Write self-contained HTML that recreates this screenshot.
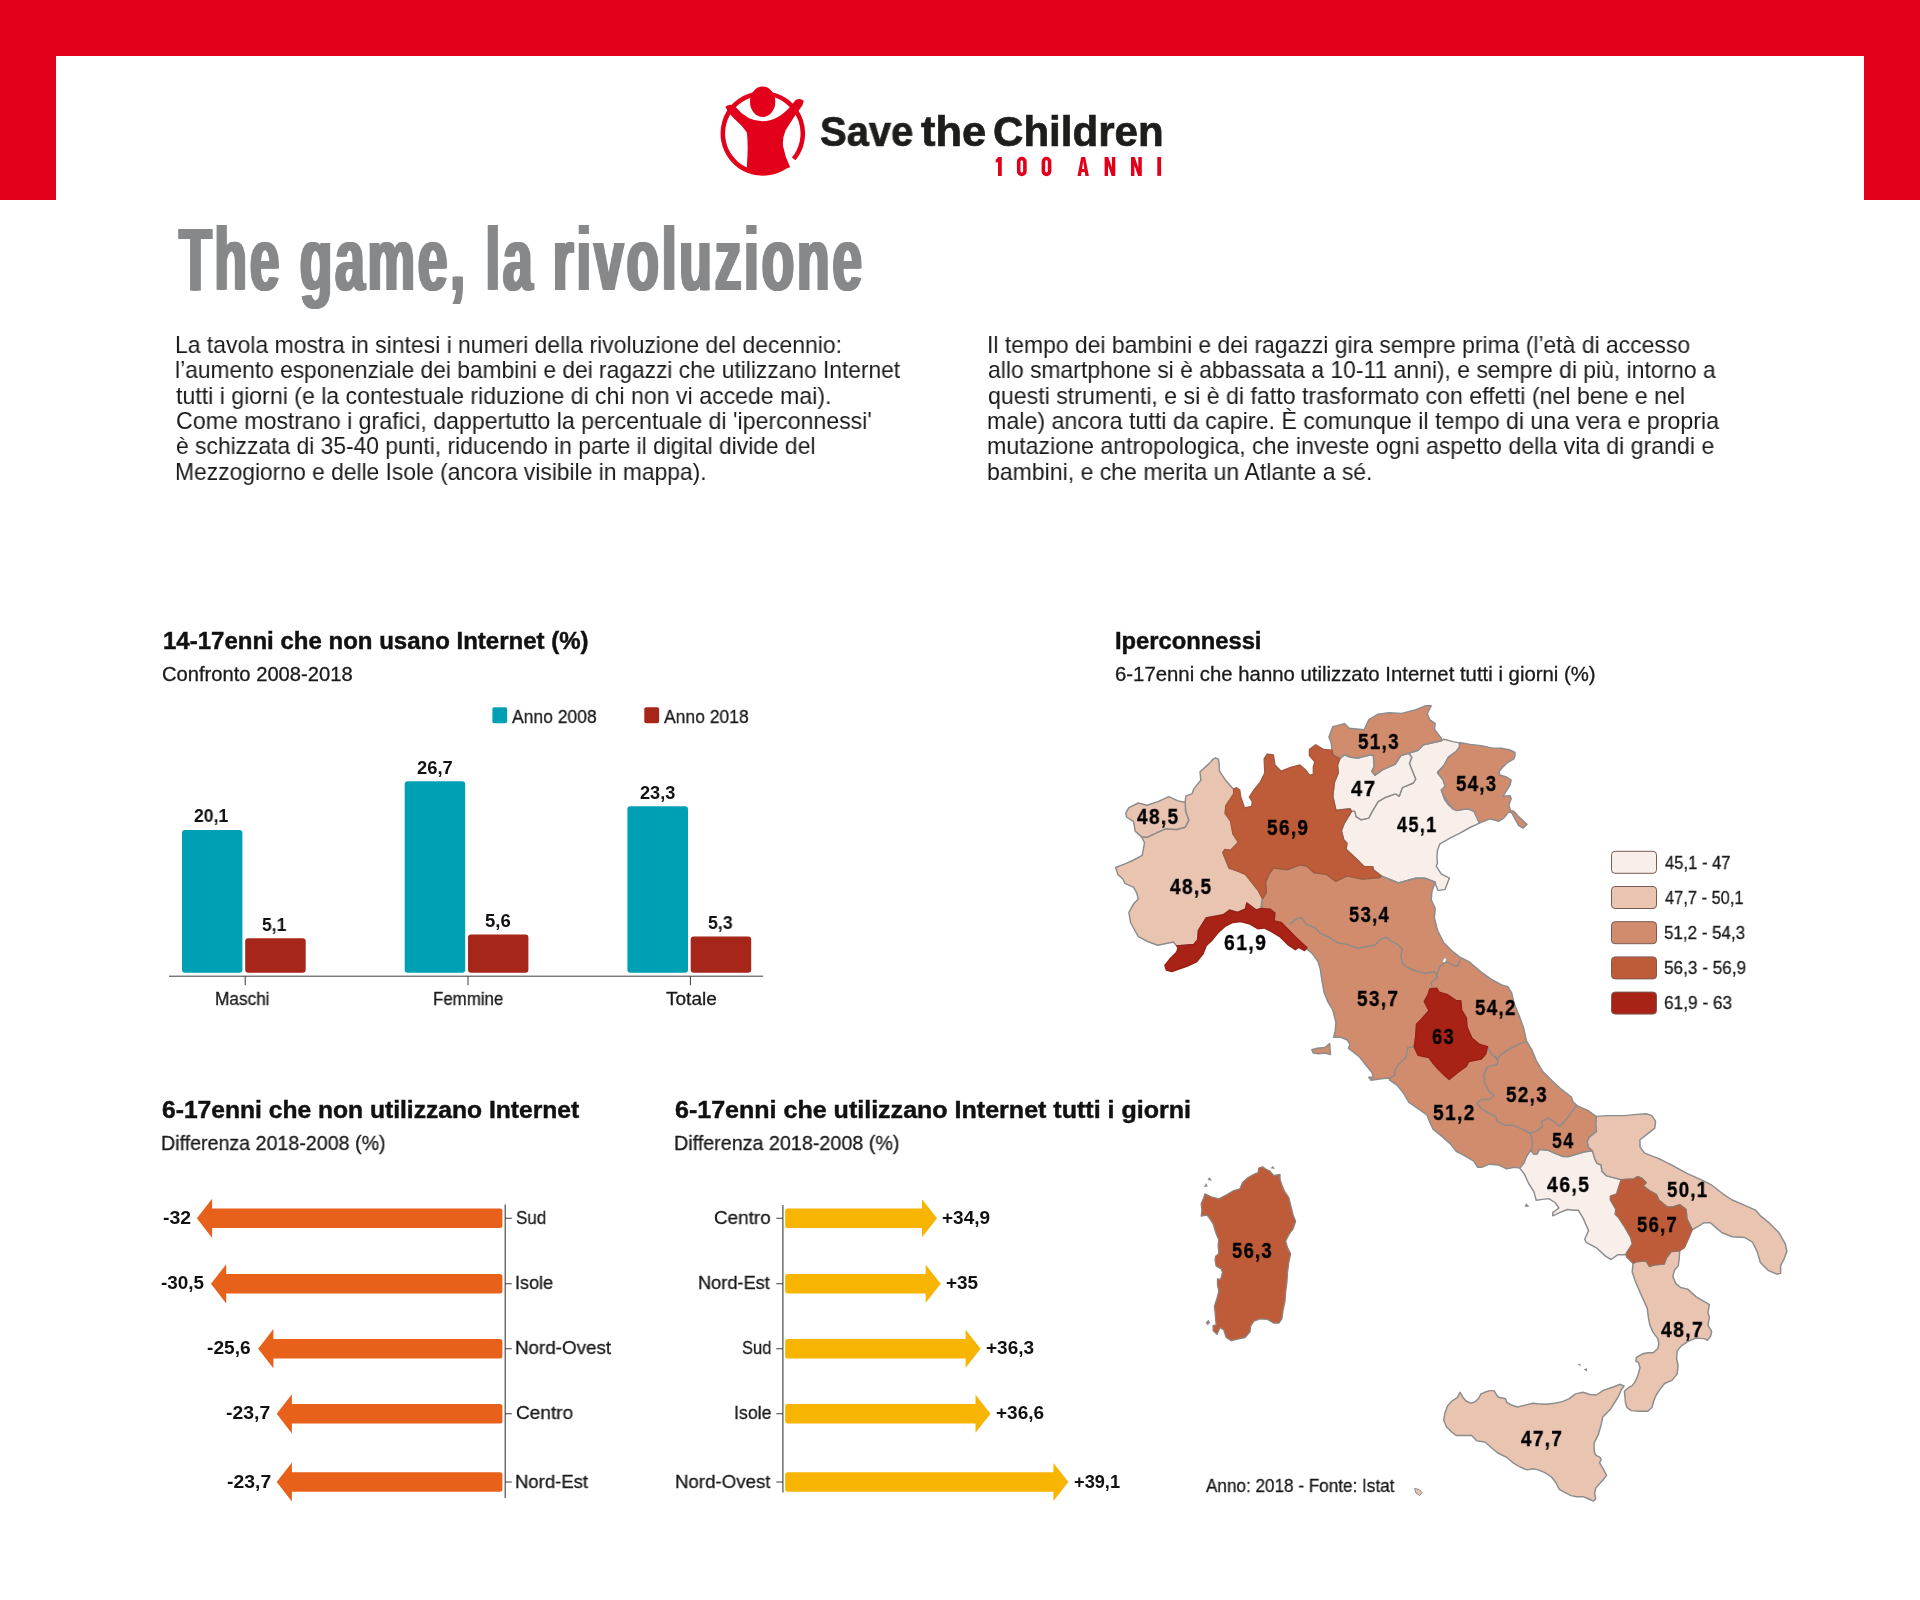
<!DOCTYPE html>
<html lang="it"><head><meta charset="utf-8"><title>The game, la rivoluzione</title>
<style>html,body{margin:0;padding:0;background:#fff}body{width:1920px;height:1600px;position:relative;overflow:hidden;font-family:"Liberation Sans",sans-serif}#g{position:absolute;left:0;top:0}.t{position:absolute;white-space:nowrap;line-height:1;transform-origin:0 0;margin:0;will-change:transform}.b{font-weight:bold}</style></head><body>
<svg id="g" width="1920" height="1600" viewBox="0 0 1920 1600">
<rect x="0" y="0" width="1920" height="56" fill="#E2001A"/>
<rect x="0" y="0" width="56" height="200" fill="#E2001A"/>
<rect x="1864" y="0" width="56" height="200" fill="#E2001A"/>
<rect x="182" y="830" width="60.4" height="142.7" rx="3" ry="3" fill="#00A0B4"/>
<rect x="245.2" y="938.3" width="60.5" height="34.4" rx="3" ry="3" fill="#A6261A"/>
<rect x="404.7" y="781.2" width="60.5" height="191.5" rx="3" ry="3" fill="#00A0B4"/>
<rect x="468" y="934.5" width="60.4" height="38.2" rx="3" ry="3" fill="#A6261A"/>
<rect x="627.4" y="806.3" width="60.6" height="166.4" rx="3" ry="3" fill="#00A0B4"/>
<rect x="690.7" y="936.6" width="60.5" height="36.1" rx="3" ry="3" fill="#A6261A"/>
<path d="M169 976.2 H763.1 M245.2 976.2 V985.2 M468 976.2 V985.2 M690.4 976.2 V985.2" stroke="#3c3c3c" stroke-width="1" fill="none"/>
<rect x="492.4" y="707.3" width="14.8" height="16" rx="2" fill="#00A0B4"/>
<rect x="644.3" y="707.3" width="14.8" height="16" rx="2" fill="#A6261A"/>
<path d="M196.9 1218.3 L212.1 1198.7 L212.1 1208.6 L499.9 1208.6 Q502.4 1208.6 502.4 1211.1 L502.4 1225.5 Q502.4 1228 499.9 1228 L212.1 1228 L212.1 1237.9 Z" fill="#E8611A"/>
<path d="M211 1283.8 L226.2 1264.2 L226.2 1274.1 L499.9 1274.1 Q502.4 1274.1 502.4 1276.6 L502.4 1291 Q502.4 1293.5 499.9 1293.5 L226.2 1293.5 L226.2 1303.4 Z" fill="#E8611A"/>
<path d="M258.2 1348.7 L273.4 1329.1 L273.4 1339 L499.9 1339 Q502.4 1339 502.4 1341.5 L502.4 1355.9 Q502.4 1358.4 499.9 1358.4 L273.4 1358.4 L273.4 1368.3 Z" fill="#E8611A"/>
<path d="M276.7 1413.8 L291.9 1394.2 L291.9 1404.1 L499.9 1404.1 Q502.4 1404.1 502.4 1406.6 L502.4 1421 Q502.4 1423.5 499.9 1423.5 L291.9 1423.5 L291.9 1433.4 Z" fill="#E8611A"/>
<path d="M276.7 1482 L291.9 1462.4 L291.9 1472.3 L499.9 1472.3 Q502.4 1472.3 502.4 1474.8 L502.4 1489.2 Q502.4 1491.7 499.9 1491.7 L291.9 1491.7 L291.9 1501.6 Z" fill="#E8611A"/>
<path d="M505.2 1204.6 V1498 M505.2 1218.3 H511.8 M505.2 1283.8 H511.8 M505.2 1348.7 H511.8 M505.2 1413.8 H511.8 M505.2 1482 H511.8" stroke="#3c3c3c" stroke-width="1.1" fill="none"/>
<path d="M937 1218.3 L922 1199.3 L922 1208.6 L787.7 1208.6 Q785.2 1208.6 785.2 1211.1 L785.2 1225.5 Q785.2 1228 787.7 1228 L922 1228 L922 1237.3 Z" fill="#F7B400"/>
<path d="M940.7 1283.8 L925.7 1264.8 L925.7 1274.1 L787.7 1274.1 Q785.2 1274.1 785.2 1276.6 L785.2 1291 Q785.2 1293.5 787.7 1293.5 L925.7 1293.5 L925.7 1302.8 Z" fill="#F7B400"/>
<path d="M980.6 1348.7 L965.6 1329.7 L965.6 1339 L787.7 1339 Q785.2 1339 785.2 1341.5 L785.2 1355.9 Q785.2 1358.4 787.7 1358.4 L965.6 1358.4 L965.6 1367.7 Z" fill="#F7B400"/>
<path d="M990.5 1413.8 L975.5 1394.8 L975.5 1404.1 L787.7 1404.1 Q785.2 1404.1 785.2 1406.6 L785.2 1421 Q785.2 1423.5 787.7 1423.5 L975.5 1423.5 L975.5 1432.8 Z" fill="#F7B400"/>
<path d="M1068.4 1482 L1053.4 1463 L1053.4 1472.3 L787.7 1472.3 Q785.2 1472.3 785.2 1474.8 L785.2 1489.2 Q785.2 1491.7 787.7 1491.7 L1053.4 1491.7 L1053.4 1501 Z" fill="#F7B400"/>
<path d="M782.9 1205 V1492.6 M776.3 1218.3 H782.9 M776.3 1283.8 H782.9 M776.3 1348.7 H782.9 M776.3 1413.8 H782.9 M776.3 1482 H782.9" stroke="#3c3c3c" stroke-width="1.1" fill="none"/>
<rect x="1611.5" y="851.3" width="45" height="22" rx="3.5" fill="#F8EFEB" stroke="#7a5c55" stroke-width="1"/>
<rect x="1611.5" y="886.5" width="45" height="22" rx="3.5" fill="#E9C4B1" stroke="#7a5c55" stroke-width="1"/>
<rect x="1611.5" y="921.7" width="45" height="22" rx="3.5" fill="#D18C6E" stroke="#7a5c55" stroke-width="1"/>
<rect x="1611.5" y="956.9" width="45" height="22" rx="3.5" fill="#BE5C3A" stroke="#7a5c55" stroke-width="1"/>
<rect x="1611.5" y="992.1" width="45" height="22" rx="3.5" fill="#A82316" stroke="#7a5c55" stroke-width="1"/>
<path d="M1213 759.2 L1215.6 757.8 L1218.4 759.1 L1219.1 763.4 L1219.5 771.2 L1225.8 780.6 L1233.6 789.2 L1235.2 793.9 L1227.3 805.6 L1226.6 813.4 L1232 821.2 L1234.4 833.8 L1239.8 842.3 L1232 850.2 L1226.6 850.9 L1225 853.3 L1230.5 868.1 L1239.1 871.2 L1246.9 874.4 L1259.4 890 L1262.5 898.6 L1260.9 908.4 L1256.2 910 L1246.9 903 L1245.3 909.2 L1237.5 912.3 L1229.7 910 L1223.4 914.7 L1215.6 916.2 L1206.2 917.8 L1198.4 930.3 L1197.7 939.7 L1193.8 944.4 L1176.6 945.9 L1173.4 942 L1157.8 945.2 L1146.9 941.2 L1138.3 936.6 L1130.5 922.5 L1128.9 912.3 L1133.6 903.8 L1138.3 899.1 L1136.7 892.8 L1133.6 887.3 L1125 883.4 L1122.7 878.8 L1118 874.8 L1115.6 867.5 L1125 863.9 L1133.6 860 L1142.2 855.3 L1144.5 842.8 L1141.4 836.6 L1146.9 837.3 L1158.6 831.9 L1165.6 828.8 L1176.6 829.5 L1185.2 827.2 L1188.8 820.2 L1185.6 811.6 L1185.2 802.2 L1185.9 796.2 L1192.2 793.6 L1193.8 788.9 L1200.8 780.3 L1200 771.7 L1209.4 763.4 Z" fill="#E9C4B1" stroke="#8c8c8c" stroke-width="1.45" stroke-linejoin="round"/>
<path d="M1125.8 813.1 L1128.9 807.7 L1138.3 803 L1146.9 805.3 L1158.6 801.4 L1168.8 796.7 L1178.1 800.9 L1185.2 802.2 L1185.6 811.6 L1188.8 820.2 L1185.2 827.2 L1176.6 829.5 L1165.6 828.8 L1158.6 831.9 L1146.9 837.3 L1141.4 836.6 L1135.2 831.1 L1133.6 821.7 L1126.6 817 Z" fill="#E9C4B1" stroke="#8c8c8c" stroke-width="1.45" stroke-linejoin="round"/>
<path d="M1408.6 753.3 L1418 750.2 L1423.4 744.7 L1441.4 740.8 L1443.8 739.2 L1453.1 741.6 L1460.2 743.1 L1459.4 749.4 L1448.4 757.2 L1444.5 765 L1437.5 772 L1445.3 779.8 L1446.1 786.9 L1441.4 790 L1444.5 799.4 L1448.4 804.8 L1456.2 810.3 L1465.6 808.8 L1475 809.5 L1479.4 823.1 L1470 827.5 L1460 833.1 L1450 838.1 L1440 843.8 L1437.5 850 L1436.9 857.5 L1437.5 863.1 L1436.2 866.2 L1441.2 873.8 L1449.4 878.1 L1445 889.4 L1438.1 890.6 L1435.6 884.4 L1435.2 882.2 L1425 878.3 L1415.6 878.3 L1398.4 883 L1381.2 875.9 L1373.4 869.7 L1372.7 866.6 L1364.1 866.6 L1356.2 858.8 L1346.1 849.4 L1346.9 843.1 L1343.8 840 L1341.4 830.6 L1344.5 822.8 L1351.6 811.1 L1354.7 811.1 L1356.2 816.6 L1360.9 819.7 L1368.8 818.1 L1371.1 813.4 L1378.1 801.7 L1384.4 797.8 L1395.3 793.9 L1399.2 796.2 L1402.3 787.7 L1413.3 783 L1415.6 779.1 L1409.4 763.4 L1411.7 757.2 Z" fill="#F8EFEB" stroke="#8c8c8c" stroke-width="1.45" stroke-linejoin="round"/>
<path d="M1339.8 758.8 L1344.5 754.8 L1350.8 757.2 L1357.8 758 L1370.3 754.8 L1373.4 755.6 L1374.2 766.6 L1371.9 771.2 L1375 775.2 L1382.8 769.7 L1395.3 764.2 L1400.8 755.6 L1408.6 753.3 L1411.7 757.2 L1409.4 763.4 L1415.6 779.1 L1413.3 783 L1402.3 787.7 L1399.2 796.2 L1395.3 793.9 L1384.4 797.8 L1378.1 801.7 L1371.1 813.4 L1368.8 818.1 L1360.9 819.7 L1356.2 816.6 L1354.7 811.1 L1351.6 811.1 L1350 808.8 L1335.9 810.3 L1332.8 796.2 L1334.4 782.2 L1338.3 772.8 L1337.5 765 Z" fill="#F8EFEB" stroke="#8c8c8c" stroke-width="1.45" stroke-linejoin="round"/>
<path d="M1519.8 1168.1 L1526.9 1155.6 L1530.8 1150.2 L1533.9 1154.1 L1537 1154.1 L1539.4 1149.4 L1548 1150.2 L1555 1153.3 L1562.8 1156.4 L1569.1 1156.4 L1576.9 1154.1 L1584.7 1151.7 L1592.5 1150.9 L1594.8 1158.8 L1597.2 1163.4 L1601.1 1165 L1601.9 1171.2 L1606.6 1175.9 L1620.6 1179.1 L1624.5 1186.9 L1619.8 1193.9 L1616.7 1197.8 L1619.8 1205.6 L1624.5 1213.4 L1631.6 1225.9 L1636.2 1236.9 L1639.4 1244.7 L1634.7 1249.4 L1630 1254.8 L1617.5 1254.8 L1611.2 1259.5 L1605.8 1256.4 L1596.4 1247.8 L1586.2 1242.3 L1584.7 1239.2 L1588.6 1230.6 L1583.1 1218.1 L1578.4 1210.3 L1573.8 1210.3 L1567.5 1209.5 L1559.7 1212.7 L1552.7 1215.8 L1552.7 1212.7 L1558.9 1208 L1555 1202.5 L1548.8 1198.6 L1542.5 1199.4 L1536.2 1200.2 L1533.9 1191.6 L1528.4 1183 L1524.5 1174.4 Z" fill="#F8EFEB" stroke="#8c8c8c" stroke-width="1.45" stroke-linejoin="round"/>
<path d="M1596.2 1116.4 L1607.2 1115.6 L1624.4 1115.6 L1636.9 1114.4 L1646.2 1113.8 L1651.7 1115.6 L1655.6 1121.1 L1654.8 1128.1 L1647.8 1133.6 L1640 1139.8 L1640 1146.9 L1644.7 1153.1 L1658.8 1158.6 L1672.8 1165.6 L1686.9 1173.4 L1700.9 1179.7 L1711.9 1185.2 L1722.8 1193.8 L1732.2 1200 L1743.1 1204.7 L1755.6 1210.2 L1760.3 1215.6 L1769.7 1223.4 L1779.1 1232.8 L1785.3 1243.8 L1786.9 1251.6 L1783.8 1259.4 L1780.6 1265.6 L1780.6 1273.4 L1776.7 1274.2 L1768.1 1270.3 L1760.3 1262.5 L1757.2 1251.6 L1752.5 1242.2 L1744.7 1237.5 L1732.2 1236.7 L1722 1232.8 L1716.6 1228.1 L1710.3 1222.7 L1704.1 1222.7 L1697.8 1226.6 L1692.3 1229.7 L1686.9 1218.8 L1686.1 1209.4 L1679.8 1204.7 L1672.8 1207 L1667.3 1207 L1658.8 1200 L1656.4 1194.5 L1649.4 1190.6 L1643.1 1185.9 L1646.2 1182.8 L1641.6 1178.1 L1637.7 1176.6 L1633.8 1178.9 L1621.2 1179.7 L1606.6 1175.9 L1601.9 1171.2 L1601.1 1165 L1597.2 1163.4 L1594.8 1158.8 L1592.5 1150.9 L1588.6 1147.8 L1587 1141.6 L1589.4 1136.9 L1596.4 1131.4 L1595.6 1124.4 Z" fill="#E9C4B1" stroke="#8c8c8c" stroke-width="1.45" stroke-linejoin="round"/>
<path d="M1633 1263.3 L1636.9 1261.7 L1646.2 1260.9 L1649.4 1266.4 L1654.8 1264.8 L1664.2 1264.1 L1666.6 1257.8 L1671.2 1251.6 L1679.8 1250.8 L1679.1 1259.4 L1678.3 1265.6 L1674.4 1270.3 L1672.8 1276.6 L1675.9 1283.6 L1680.6 1287.5 L1687.7 1289.1 L1696.2 1296.9 L1709.5 1304.7 L1707.9 1312.5 L1709.4 1317.7 L1707.9 1325.1 L1711.7 1331.3 L1710.5 1336.5 L1707.3 1340.2 L1704.2 1338.6 L1695.9 1338.1 L1688.6 1341.2 L1681.3 1345.9 L1677.1 1351.1 L1676.6 1358.5 L1678.1 1365.8 L1677.1 1374.1 L1671.9 1380.4 L1664.6 1383.5 L1660.4 1388.7 L1656.2 1395 L1653.6 1401.3 L1652 1407.5 L1647.8 1411.2 L1639.5 1411.2 L1631.1 1410.6 L1627 1407.5 L1625.4 1402.3 L1624.9 1396 L1624.4 1391.3 L1629.1 1387.2 L1632.2 1385.6 L1635.3 1381.4 L1637.9 1375.2 L1640 1367.8 L1638.5 1362.6 L1635.8 1361.1 L1636.4 1357.4 L1642.6 1353.8 L1647.8 1352.7 L1653.1 1352.7 L1657.8 1348.5 L1658.8 1343.8 L1657.8 1338.6 L1653.1 1332.4 L1649.9 1325.1 L1648.4 1317.7 L1647.3 1308.4 L1640 1292.2 L1635.3 1281.2 L1632.2 1271.9 Z" fill="#E9C4B1" stroke="#8c8c8c" stroke-width="1.45" stroke-linejoin="round"/>
<path d="M1460.1 1392.3 L1462.8 1397.2 L1466.1 1401 L1471 1403.2 L1475.4 1401.6 L1478.7 1398.3 L1480.9 1393.9 L1484.7 1392.3 L1489.6 1390.6 L1494 1390.6 L1496.7 1395 L1498.4 1397.2 L1505.5 1398.8 L1506.6 1402.1 L1510.9 1404.8 L1517.5 1407 L1524.1 1405.4 L1532.8 1403.2 L1537.2 1403.8 L1545.9 1404.3 L1554.7 1403.2 L1562.3 1401.6 L1568.9 1398.8 L1575.5 1393.9 L1583.1 1392.3 L1589.7 1394.5 L1596.2 1395 L1603.9 1390.1 L1613.8 1386.8 L1620.3 1384.3 L1624.1 1386 L1621.4 1389.5 L1618.1 1397.2 L1610.5 1409.2 L1602.8 1416.9 L1601.2 1424.5 L1598.4 1434.4 L1594.1 1443.1 L1594.1 1450.8 L1595.7 1455.2 L1600.1 1457.3 L1601.2 1459.5 L1599.5 1462.8 L1602.3 1467.2 L1606.6 1475.4 L1602.8 1480.3 L1595.7 1488 L1594.6 1493.4 L1595.7 1498.9 L1593.5 1501.1 L1589.7 1499.5 L1583.1 1496.7 L1576.6 1496.7 L1571.1 1495.6 L1564.5 1492.3 L1559.1 1489.1 L1555.8 1482.5 L1551.4 1477 L1544.8 1472.7 L1538.3 1469.9 L1532.8 1468.8 L1527.3 1469.9 L1523 1468.3 L1518.6 1466.1 L1513.1 1462.8 L1506.6 1457.3 L1497.8 1453 L1491.2 1447.5 L1484.7 1442 L1477 1440.9 L1471.6 1435.5 L1465 1435.5 L1456.2 1435.5 L1451.9 1432.2 L1446.4 1426.7 L1443.7 1420.2 L1444.8 1413.6 L1447.5 1405.9 L1451.9 1401 L1457.3 1397.7 Z" fill="#E9C4B1" stroke="#8c8c8c" stroke-width="1.45" stroke-linejoin="round"/>
<path d="M1262.5 898.6 L1266.4 892.3 L1265.6 882.2 L1268.8 874.4 L1273.4 868.1 L1287.5 869.7 L1300 865 L1306.2 865.8 L1314.1 872.8 L1326.6 874.4 L1335.9 881.4 L1346.9 875.9 L1362.5 879.1 L1379.7 877.5 L1381.2 875.9 L1398.4 883 L1415.6 878.3 L1425 878.3 L1435.2 882.2 L1432 891.2 L1431.2 899.8 L1435.2 908.4 L1434.4 917.8 L1437.5 930.3 L1443.8 942.8 L1451.6 950.6 L1459.4 956.9 L1468.8 961.6 L1479.7 970.9 L1490.6 978.8 L1501.6 985 L1507.8 986.6 L1511.7 992.8 L1514.1 1003.8 L1518.8 1014.7 L1523.4 1027.2 L1526.6 1041.2 L1531.6 1049.4 L1536.2 1060.3 L1542.5 1071.2 L1551.9 1080.6 L1561.2 1089.2 L1571.4 1097 L1573 1101.7 L1576.9 1105.6 L1587.8 1110.3 L1596.4 1116.6 L1595.6 1124.4 L1596.4 1131.4 L1589.4 1136.9 L1587 1141.6 L1588.6 1147.8 L1592.5 1150.9 L1584.7 1151.7 L1576.9 1154.1 L1569.1 1156.4 L1562.8 1156.4 L1555 1153.3 L1548 1150.2 L1539.4 1149.4 L1537 1154.1 L1533.9 1154.1 L1530.8 1150.2 L1526.9 1155.6 L1523.8 1163.4 L1519.8 1168.1 L1514.4 1167.3 L1506.6 1168.9 L1498.8 1165 L1489.4 1164.2 L1481.6 1167.3 L1477.7 1167.3 L1473.8 1161.1 L1464.4 1155.6 L1456.6 1151.7 L1450.3 1143.9 L1442.5 1136.9 L1433.1 1129.1 L1430 1122.8 L1426.9 1115 L1415.9 1107.2 L1408.9 1102.5 L1403.4 1093.1 L1397.2 1085.3 L1389.4 1079.8 L1389.8 1078 L1381.2 1078.8 L1371.1 1080.3 L1368.8 1077.2 L1373.4 1077.2 L1371.9 1072.5 L1365.6 1064.7 L1359.4 1056.9 L1348.4 1048.3 L1350 1044.4 L1346.9 1039.7 L1340.6 1037.3 L1333.6 1037.3 L1335.2 1031.1 L1335.9 1022.5 L1332.8 1010 L1328.1 1002.2 L1324.2 992.8 L1321.9 980.3 L1320.3 969.4 L1318 961.6 L1312.5 953.8 L1307 949.1 L1301.6 945.9 L1279.7 929.5 L1265.6 916.2 L1261.7 906.9 Z" fill="#D18C6E" stroke="#8c8c8c" stroke-width="1.45" stroke-linejoin="round"/>
<path d="M1459.4 742.5 L1470 744.4 L1481.2 745.6 L1492.5 748.1 L1501.2 748.1 L1510 750 L1515 752.5 L1515 756.2 L1513.8 758.8 L1507.5 762.5 L1502.5 767.5 L1498.8 771.9 L1500 775 L1506.2 776.9 L1511.2 780 L1510 785 L1506.2 791.2 L1503.1 796.2 L1510 795.6 L1511.2 798.8 L1508.8 805 L1510.6 810.6 L1513.8 811.2 L1518.8 816.9 L1526.9 824.4 L1523.1 828.1 L1518.8 825.6 L1515 818.8 L1511.9 813.1 L1508.8 811.9 L1503.8 818.1 L1498.8 821.2 L1490 818.8 L1479.4 823.1 L1473.8 811.2 L1467.5 808.8 L1456.9 810.6 L1452.5 808.8 L1448.8 803.8 L1443.8 796.2 L1441.2 790 L1445 786.2 L1443.1 780 L1437.5 773.1 L1443.8 765.6 L1448.1 757.5 L1456.2 751.2 L1459.4 746.9 Z" fill="#D18C6E" stroke="#8c8c8c" stroke-width="1.45" stroke-linejoin="round"/>
<path d="M1328.9 736.9 L1332.8 726.7 L1344.5 723.6 L1349.2 728.3 L1364.1 729.8 L1368.8 719.7 L1378.1 714.2 L1389.1 712.7 L1401.6 713.4 L1414.1 710.3 L1425.8 705.6 L1431.2 705.6 L1427.3 713.4 L1429.7 719.7 L1435.2 723.6 L1434.4 729.1 L1441.4 738.4 L1441.4 740.8 L1423.4 744.7 L1418 750.2 L1408.6 753.3 L1400.8 755.6 L1395.3 764.2 L1382.8 769.7 L1375 775.2 L1371.9 771.2 L1374.2 766.6 L1373.4 755.6 L1370.3 754.8 L1357.8 758 L1350.8 757.2 L1344.5 754.8 L1339.8 758.8 L1332.8 754.8 L1332 750.2 L1331.2 743.1 Z" fill="#D18C6E" stroke="#8c8c8c" stroke-width="1.45" stroke-linejoin="round"/>
<path d="M1311.7 1049.8 L1317.2 1048.3 L1325 1047.5 L1329.7 1043.6 L1330.5 1054.5 L1325 1053 L1318.8 1053.8 L1313.3 1053 Z" fill="#D18C6E" stroke="#8c8c8c" stroke-width="1.45" stroke-linejoin="round"/>
<path d="M1289.8 924.1 L1296.9 918.6 L1301.6 917.8 L1306.2 924.1 L1315.6 928 L1320.3 933.4 L1328.1 936.6 L1337.5 942.8 L1346.9 944.4 L1357.8 948.3 L1365.6 946.7 L1375 945.2 L1379.7 939.7 L1385.9 937.3 L1391.4 941.2 L1397.7 944.4 L1402.3 949.1 L1400.8 955.3 L1402.3 963.1 L1407.8 967.8 L1418 971.7 L1426.6 973.3 L1434.4 971.7 L1436.7 974.8" fill="none" stroke="#8c8c8c" stroke-width="1.45" stroke-linejoin="round" stroke-linecap="round"/>
<path d="M1460.2 959.2 L1457.8 966.2 L1453.1 965.5 L1447.7 962.3 L1443.8 963.1 L1439.8 967 L1436.7 974.8 L1437.5 977.2 L1431.2 982.7 L1432 987.3" fill="none" stroke="#8c8c8c" stroke-width="1.45" stroke-linejoin="round" stroke-linecap="round"/>
<path d="M1414.1 1046.7 L1407.8 1047.5 L1406.2 1056.9 L1398.4 1064.7 L1395.3 1069.4 L1394.5 1075.6 L1389.8 1078" fill="none" stroke="#8c8c8c" stroke-width="1.45" stroke-linejoin="round" stroke-linecap="round"/>
<path d="M1526.6 1041.2 L1518.8 1044.4 L1507.8 1049.8 L1500 1055.3 L1496.9 1060" fill="none" stroke="#8c8c8c" stroke-width="1.45" stroke-linejoin="round" stroke-linecap="round"/>
<path d="M1487.5 1046.7 L1491.4 1053.8 L1496.9 1059.2" fill="none" stroke="#8c8c8c" stroke-width="1.45" stroke-linejoin="round" stroke-linecap="round"/>
<path d="M1495.6 1056.4 L1498 1061.9 L1496.4 1065 L1487.8 1066.6 L1483.9 1074.4 L1484.7 1083 L1489.4 1091.6 L1494.1 1095.5 L1489.4 1099.4 L1481.6 1099.4 L1476.9 1103.3 L1481.6 1108.8 L1489.4 1113.4 L1495.6 1116.6 L1497.2 1121.2 L1505 1125.2 L1512.8 1125.2 L1520.6 1128.3 L1530 1133 L1532.3 1140 L1532.3 1147.8 L1530.8 1150.2" fill="none" stroke="#8c8c8c" stroke-width="1.45" stroke-linejoin="round" stroke-linecap="round"/>
<path d="M1530 1133 L1536.2 1131.4 L1542.5 1126.7 L1541.7 1121.2 L1548 1118.1 L1553.4 1121.2 L1559.7 1126.7 L1565.9 1119.7 L1570.6 1113.4 L1575.3 1107.2 L1576.9 1105.6" fill="none" stroke="#8c8c8c" stroke-width="1.45" stroke-linejoin="round" stroke-linecap="round"/>
<path d="M1236.7 787.7 L1239.8 790 L1240.6 796.2 L1244.5 808 L1251.6 806.4 L1252.3 801.7 L1249.2 797 L1253.9 790 L1260.2 782.2 L1264.8 772.8 L1264.1 758.8 L1267.2 754.1 L1273.4 754.8 L1275 765 L1281.2 771.2 L1290.6 767.3 L1300 765 L1306.2 770.5 L1309.4 775.2 L1313.3 774.4 L1313.3 766.6 L1314.8 761.9 L1309.4 755.6 L1309.4 749.4 L1315.6 744.7 L1323.4 749.4 L1332 750.2 L1332.8 754.8 L1339.8 758.8 L1337.5 765 L1338.3 772.8 L1334.4 782.2 L1332.8 796.2 L1335.9 810.3 L1350 808.8 L1351.6 811.1 L1344.5 822.8 L1341.4 830.6 L1343.8 840 L1346.9 843.1 L1346.1 849.4 L1356.2 858.8 L1364.1 866.6 L1372.7 866.6 L1373.4 869.7 L1381.2 875.9 L1379.7 877.5 L1362.5 879.1 L1346.9 875.9 L1335.9 881.4 L1326.6 874.4 L1314.1 872.8 L1306.2 865.8 L1300 865 L1287.5 869.7 L1273.4 868.1 L1268.8 874.4 L1265.6 882.2 L1266.4 892.3 L1262.5 898.6 L1257.8 890 L1245.3 874.4 L1237.5 871.2 L1228.9 868.1 L1222.7 852.5 L1225 849.4 L1230.5 850.2 L1238.3 842.3 L1232.8 833.8 L1230.5 821.2 L1225 813.4 L1225.8 805.6 L1233.6 793.9 L1233.6 789.2 Z" fill="#BE5C3A" stroke="#A2583C" stroke-width="1.3" stroke-linejoin="round"/>
<path d="M1621.2 1179.7 L1633.8 1178.9 L1637.7 1176.6 L1641.6 1178.1 L1646.2 1182.8 L1643.1 1185.9 L1649.4 1190.6 L1656.4 1194.5 L1658.8 1200 L1667.3 1207 L1672.8 1207 L1679.8 1204.7 L1686.1 1209.4 L1686.9 1218.8 L1692.3 1229.7 L1688.4 1239.1 L1684.5 1247.7 L1679.8 1250.8 L1671.2 1251.6 L1666.6 1257.8 L1664.2 1264.1 L1654.8 1264.8 L1649.4 1266.4 L1646.2 1260.9 L1636.9 1261.7 L1633 1263.3 L1626.7 1257 L1625.9 1253.9 L1632.2 1243.8 L1630.6 1237.5 L1624.4 1226.6 L1618.1 1217.2 L1615 1214.1 L1615.8 1209.4 L1610.3 1200 L1610.3 1196.1 L1616.6 1193.8 L1618.9 1185.9 Z" fill="#BE5C3A" stroke="#967060" stroke-width="1.3" stroke-linejoin="round"/>
<path d="M1258.8 1168.1 L1262.5 1166.9 L1266.2 1169.4 L1270 1171.2 L1273.8 1175.6 L1276.9 1175 L1280 1174.4 L1280 1179.4 L1281.9 1185 L1284.4 1191.2 L1288.8 1197.5 L1291.2 1207.5 L1293.1 1215 L1295.6 1221.2 L1293.1 1228.8 L1289.4 1233.8 L1285.6 1241.2 L1287.5 1247.5 L1290.6 1253.8 L1288.8 1262.5 L1287.5 1272.5 L1286.9 1282.5 L1285.6 1292.5 L1285 1301.2 L1283.1 1310 L1281.9 1318.8 L1278.8 1323.1 L1273.8 1323.1 L1267.5 1319.4 L1260 1318.8 L1253.8 1321.2 L1250.6 1326.2 L1250 1331.9 L1245 1337.5 L1238.8 1338.8 L1231.2 1340.6 L1226.2 1337.5 L1223.8 1330 L1220 1327.5 L1216.9 1334.4 L1213.1 1330.6 L1213.1 1325.6 L1216.2 1325 L1215.6 1318.8 L1215 1311.2 L1214.4 1306.2 L1216.9 1298.8 L1218.8 1291.2 L1217.5 1285 L1217.5 1278.8 L1220.6 1279.4 L1222.5 1272.5 L1221.2 1268.8 L1216.2 1266.2 L1215 1260 L1215.6 1256.2 L1218.8 1253.8 L1218.1 1245 L1218.8 1240 L1216.2 1233.8 L1215 1230 L1213.1 1223.8 L1210 1218.8 L1206.9 1215 L1201.2 1216.2 L1201.9 1210 L1201.2 1203.8 L1203.8 1197.5 L1205 1193.8 L1211.2 1196.9 L1218.8 1198.8 L1226.2 1195 L1233.8 1190.6 L1240 1188.8 L1242.5 1182.5 L1248.1 1177.5 L1253.8 1174.4 L1258.1 1172.5 Z" fill="#BE5C3A" stroke="#908078" stroke-width="1.3" stroke-linejoin="round"/>
<path d="M1176.6 945.9 L1193.8 944.4 L1197.7 939.7 L1198.4 930.3 L1206.2 917.8 L1215.6 916.2 L1223.4 914.7 L1229.7 910 L1237.5 912.3 L1245.3 909.2 L1246.9 903 L1256.2 910 L1260.9 908.4 L1270.3 909.2 L1275 913.1 L1274.2 920.9 L1281.2 922.5 L1287.5 928.8 L1295.3 936.6 L1301.6 942.8 L1307 947.5 L1304.7 950.6 L1298.4 947.5 L1295.3 949.8 L1287.5 944.4 L1279.7 936.6 L1271.9 931.9 L1264.1 928 L1257.8 928.8 L1250 924.1 L1240.6 921.7 L1232.8 922.5 L1225 926.4 L1218.8 931.9 L1212.5 939.7 L1206.2 945.9 L1203.1 953.8 L1196.9 961.6 L1187.5 966.2 L1178.1 969.4 L1171.9 971.7 L1166.4 970.2 L1164.8 965.5 L1170.3 958.4 L1176.6 952.2 L1178.1 947.5 Z" fill="#A82316" stroke="#981f14" stroke-width="1.3" stroke-linejoin="round"/>
<path d="M1429.7 988.9 L1436.7 988.1 L1439.1 992 L1446.9 994.4 L1456.2 1000.6 L1460.9 1000.6 L1461.7 1010 L1466.4 1017.8 L1467.2 1027.2 L1471.9 1038.1 L1479.7 1044.4 L1487.5 1046.7 L1485.9 1053.8 L1481.2 1059.2 L1468.8 1061.6 L1466.4 1066.2 L1457.8 1072.5 L1449.2 1079.5 L1443 1074.1 L1438.3 1069.4 L1432.8 1063.1 L1428.9 1057.7 L1418 1055.3 L1414.1 1046.7 L1415.6 1036.6 L1416.4 1024.1 L1421.1 1019.4 L1428.9 1010.8 L1424.2 1001.4 L1428.1 994.4 Z" fill="#A82316" stroke="#981f14" stroke-width="1.3" stroke-linejoin="round"/>
<path d="M1524.5 1206.9 L1526.1 1203.3 L1529.5 1206.6 Z" fill="#8c8c8c"/>
<path d="M1577.7 1364.4 L1580.1 1363.6 L1580.7 1366.3 Z" fill="#8c8c8c"/>
<path d="M1583.7 1369.5 L1586.6 1368.1 L1587.2 1371.8 Z" fill="#8c8c8c"/>
<path d="M1203.8 1186.9 L1206.2 1183.1 L1207.8 1186.5 Z" fill="#8c8c8c"/>
<path d="M1207.5 1180 L1209.5 1176.9 L1212 1180.8 Z" fill="#8c8c8c"/>
<path d="M1270.4 1168.5 L1272.5 1166 L1275.2 1168.8 Z" fill="#8c8c8c"/>
<path d="M1205.6 1322.5 L1208.5 1319.8 L1210.2 1322.5 L1207.5 1325.2 Z" fill="#8c8c8c"/>
<path d="M1414.5 1488.6 L1419 1489.4 L1422 1492.6 L1419.6 1495.6 L1416 1493 Z" fill="#E9C4B1" stroke="#8c8c8c" stroke-width="1"/>
<ellipse cx="1444.6" cy="960.3" rx="1.6" ry="2.6" fill="#fff" stroke="#8c8c8c" stroke-width="0.6" transform="rotate(30 1444.6 960.3)"/>
<g transform="translate(700 70) scale(0.15625)" fill="#E2001A">
<path d="M 556 610.4 A 256 256 0 1 1 599.5 568.8" fill="none" stroke="#E2001A" stroke-width="29"/>
<ellipse cx="401" cy="203" rx="81" ry="97"/>
<path d="M163 238 Q168 222 200 222 L228 236 Q300 325 400 328 Q500 325 583 228 L612 192 Q640 178 664 196 L656 226 Q600 300 548 385 Q525 440 532 490 Q545 560 577 622 L500 647 L400 662 L300 641 L300 612 Q310 480 300 400 Q270 355 218 310 Q180 275 163 238 Z"/>
</g>
<g fill="#E2001A" fill-rule="evenodd">
<path d="M998.2 157 L1001.8 157 L1001.8 175.9 L998 175.9 L998 161.9 L995.7 162.7 L995.7 160.1 Z"/>
<path d="M1016.9 161.6 a4.9 4.9 0 0 1 9.8 0 v9.7 a4.9 4.9 0 0 1 -9.8 0 Z M1020.5 161.8 v9.3 a1.3 1.5 0 0 0 2.6 0 v-9.3 a1.3 1.5 0 0 0 -2.6 0 Z"/>
<path d="M1041.6 161.6 a4.9 4.9 0 0 1 9.8 0 v9.7 a4.9 4.9 0 0 1 -9.8 0 Z M1045.2 161.8 v9.3 a1.3 1.5 0 0 0 2.6 0 v-9.3 a1.3 1.5 0 0 0 -2.6 0 Z"/>
<path d="M1077.5 175.9 L1081.2 157 L1085.2 157 L1088.9 175.9 L1085.4 175.9 L1084.8 172 L1081.6 172 L1081 175.9 Z M1082.1 168.9 L1084.3 168.9 L1083.2 161.3 Z"/>
<path d="M1104.6 157 L1108.3 157 L1111.9 167.5 L1111.9 157 L1115.3 157 L1115.3 175.9 L1111.7 175.9 L1108 165.2 L1108 175.9 L1104.6 175.9 Z"/>
<path d="M1131 157 L1134.7 157 L1138.3 167.5 L1138.3 157 L1141.8 157 L1141.8 175.9 L1138.1 175.9 L1134.4 165.2 L1134.4 175.9 L1131 175.9 Z"/>
<rect x="1157.3" y="157" width="3.8" height="18.9"/>
</g>

</svg>
<div class="t b" id="t0" style="left:179.40px;top:216px;font-size:88.66px;color:#87888A;letter-spacing:4.5px;text-shadow:2.4px 0 0 #87888A,-2.4px 0 0 #87888A;transform:scaleX(0.6028);">The game, la rivoluzione</div>
<div class="t b" id="t1" style="left:820.00px;top:111px;font-size:41.86px;color:#1d1d1b;-webkit-text-stroke:0.7px #1d1d1b;transform:scaleX(0.9538);">Save</div>
<div class="t b" id="t2" style="left:920.60px;top:111px;font-size:41.86px;color:#1d1d1b;-webkit-text-stroke:0.7px #1d1d1b;transform:scaleX(1.0389);">the</div>
<div class="t b" id="t3" style="left:992.60px;top:111px;font-size:41.86px;color:#1d1d1b;-webkit-text-stroke:0.7px #1d1d1b;transform:scaleX(1.0052);">Children</div>
<div class="t" id="t4" style="left:175.00px;top:334px;font-size:23.40px;color:#1a1a1a;transform:scaleX(0.9809);">La tavola mostra in sintesi i numeri della rivoluzione del decennio:</div>
<div class="t" id="t5" style="left:175.00px;top:359px;font-size:23.40px;color:#1a1a1a;transform:scaleX(0.9733);">l’aumento esponenziale dei bambini e dei ragazzi che utilizzano Internet</div>
<div class="t" id="t6" style="left:176.00px;top:385px;font-size:23.40px;color:#1a1a1a;transform:scaleX(0.9886);">tutti i giorni (e la contestuale riduzione di chi non vi accede mai).</div>
<div class="t" id="t7" style="left:176.00px;top:410px;font-size:23.40px;color:#1a1a1a;transform:scaleX(0.9894);">Come mostrano i grafici, dappertutto la percentuale di 'iperconnessi'</div>
<div class="t" id="t8" style="left:176.00px;top:435px;font-size:23.40px;color:#1a1a1a;transform:scaleX(0.9757);">è schizzata di 35-40 punti, riducendo in parte il digital divide del</div>
<div class="t" id="t9" style="left:175.00px;top:461px;font-size:23.40px;color:#1a1a1a;transform:scaleX(0.9757);">Mezzogiorno e delle Isole (ancora visibile in mappa).</div>
<div class="t" id="t10" style="left:987.00px;top:334px;font-size:23.40px;color:#1a1a1a;transform:scaleX(0.9796);">Il tempo dei bambini e dei ragazzi gira sempre prima (l’età di accesso</div>
<div class="t" id="t11" style="left:988.00px;top:359px;font-size:23.40px;color:#1a1a1a;transform:scaleX(0.9790);">allo smartphone si è abbassata a 10-11 anni), e sempre di più, intorno a</div>
<div class="t" id="t12" style="left:988.00px;top:385px;font-size:23.40px;color:#1a1a1a;transform:scaleX(0.9898);">questi strumenti, e si è di fatto trasformato con effetti (nel bene e nel</div>
<div class="t" id="t13" style="left:987.00px;top:410px;font-size:23.40px;color:#1a1a1a;transform:scaleX(0.9929);">male) ancora tutti da capire. È comunque il tempo di una vera e propria</div>
<div class="t" id="t14" style="left:987.00px;top:435px;font-size:23.40px;color:#1a1a1a;transform:scaleX(0.9899);">mutazione antropologica, che investe ogni aspetto della vita di grandi e</div>
<div class="t" id="t15" style="left:987.00px;top:461px;font-size:23.40px;color:#1a1a1a;transform:scaleX(0.9851);">bambini, e che merita un Atlante a sé.</div>
<div class="t b" id="t16" style="left:162.60px;top:630px;font-size:23.62px;color:#111;-webkit-text-stroke:0.45px #111;transform:scaleX(1.0170);">14-17enni che non usano Internet (%)</div>
<div class="t" id="t17" style="left:161.80px;top:664px;font-size:20.06px;color:#1a1a1a;-webkit-text-stroke:0.3px #1a1a1a;transform:scaleX(1.0060);">Confronto 2008-2018</div>
<div class="t b" id="t18" style="left:162.40px;top:1099px;font-size:23.62px;color:#111;-webkit-text-stroke:0.45px #111;transform:scaleX(1.0428);">6-17enni che non utilizzano Internet</div>
<div class="t" id="t19" style="left:161.00px;top:1133px;font-size:20.06px;color:#1a1a1a;-webkit-text-stroke:0.3px #1a1a1a;transform:scaleX(0.9797);">Differenza 2018-2008 (%)</div>
<div class="t b" id="t20" style="left:675.20px;top:1099px;font-size:23.62px;color:#111;-webkit-text-stroke:0.45px #111;transform:scaleX(1.0603);">6-17enni che utilizzano Internet tutti i giorni</div>
<div class="t" id="t21" style="left:674.20px;top:1133px;font-size:20.06px;color:#1a1a1a;-webkit-text-stroke:0.3px #1a1a1a;transform:scaleX(0.9836);">Differenza 2018-2008 (%)</div>
<div class="t b" id="t22" style="left:1115.40px;top:630px;font-size:23.62px;color:#111;-webkit-text-stroke:0.45px #111;transform:scaleX(1.0055);">Iperconnessi</div>
<div class="t" id="t23" style="left:1115.40px;top:664px;font-size:20.06px;color:#1a1a1a;-webkit-text-stroke:0.3px #1a1a1a;transform:scaleX(1.0148);">6-17enni che hanno utilizzato Internet tutti i giorni (%)</div>
<div class="t" id="t24" style="left:512.40px;top:707px;font-size:19.19px;color:#1a1a1a;-webkit-text-stroke:0.3px #1a1a1a;transform:scaleX(0.9114);">Anno 2008</div>
<div class="t" id="t25" style="left:664.00px;top:707px;font-size:19.19px;color:#1a1a1a;-webkit-text-stroke:0.3px #1a1a1a;transform:scaleX(0.9114);">Anno 2018</div>
<div class="t b" id="t26" style="left:194.00px;top:807px;font-size:18.17px;color:#111;transform:scaleX(0.9687);">20,1</div>
<div class="t b" id="t27" style="left:262.40px;top:916px;font-size:18.17px;color:#111;transform:scaleX(0.9632);">5,1</div>
<div class="t b" id="t28" style="left:417.20px;top:759px;font-size:18.17px;color:#111;transform:scaleX(1.0101);">26,7</div>
<div class="t b" id="t29" style="left:484.60px;top:912px;font-size:18.17px;color:#111;transform:scaleX(1.0210);">5,6</div>
<div class="t b" id="t30" style="left:639.60px;top:784px;font-size:18.17px;color:#111;transform:scaleX(0.9863);">23,3</div>
<div class="t b" id="t31" style="left:708.00px;top:914px;font-size:18.17px;color:#111;transform:scaleX(0.9731);">5,3</div>
<div class="t" id="t32" style="left:215.40px;top:991px;font-size:17.44px;color:#1a1a1a;-webkit-text-stroke:0.3px #1a1a1a;transform:scaleX(0.9876);">Maschi</div>
<div class="t" id="t33" style="left:433.00px;top:991px;font-size:17.44px;color:#1a1a1a;-webkit-text-stroke:0.3px #1a1a1a;transform:scaleX(0.9669);">Femmine</div>
<div class="t" id="t34" style="left:666.00px;top:991px;font-size:17.44px;color:#1a1a1a;-webkit-text-stroke:0.3px #1a1a1a;transform:scaleX(1.0921);">Totale</div>
<div class="t" id="t35" style="left:516.20px;top:1208px;font-size:19.19px;color:#1a1a1a;-webkit-text-stroke:0.3px #1a1a1a;transform:scaleX(0.8860);">Sud</div>
<div class="t b" id="t36" style="left:163.00px;top:1209px;font-size:18.17px;color:#111;transform:scaleX(1.0701);">-32</div>
<div class="t" id="t37" style="left:515.20px;top:1273px;font-size:19.19px;color:#1a1a1a;-webkit-text-stroke:0.3px #1a1a1a;transform:scaleX(0.9422);">Isole</div>
<div class="t b" id="t38" style="left:161.00px;top:1274px;font-size:18.17px;color:#111;transform:scaleX(1.0402);">-30,5</div>
<div class="t" id="t39" style="left:515.20px;top:1338px;font-size:19.19px;color:#1a1a1a;-webkit-text-stroke:0.3px #1a1a1a;transform:scaleX(0.9791);">Nord-Ovest</div>
<div class="t b" id="t40" style="left:206.80px;top:1339px;font-size:18.17px;color:#111;transform:scaleX(1.0553);">-25,6</div>
<div class="t" id="t41" style="left:516.20px;top:1403px;font-size:19.19px;color:#1a1a1a;-webkit-text-stroke:0.3px #1a1a1a;transform:scaleX(0.9910);">Centro</div>
<div class="t b" id="t42" style="left:226.00px;top:1404px;font-size:18.17px;color:#111;transform:scaleX(1.0669);">-23,7</div>
<div class="t" id="t43" style="left:515.20px;top:1472px;font-size:19.19px;color:#1a1a1a;-webkit-text-stroke:0.3px #1a1a1a;transform:scaleX(0.9651);">Nord-Est</div>
<div class="t b" id="t44" style="left:227.00px;top:1473px;font-size:18.17px;color:#111;transform:scaleX(1.0669);">-23,7</div>
<div class="t" id="t45" style="left:714.40px;top:1208px;font-size:19.19px;color:#1a1a1a;-webkit-text-stroke:0.3px #1a1a1a;transform:scaleX(0.9838);">Centro</div>
<div class="t b" id="t46" style="left:942.00px;top:1209px;font-size:18.17px;color:#111;transform:scaleX(1.0465);">+34,9</div>
<div class="t" id="t47" style="left:698.00px;top:1273px;font-size:19.19px;color:#1a1a1a;-webkit-text-stroke:0.3px #1a1a1a;transform:scaleX(0.9491);">Nord-Est</div>
<div class="t b" id="t48" style="left:946.00px;top:1274px;font-size:18.17px;color:#111;transform:scaleX(1.0411);">+35</div>
<div class="t" id="t49" style="left:742.20px;top:1338px;font-size:19.19px;color:#1a1a1a;-webkit-text-stroke:0.3px #1a1a1a;transform:scaleX(0.8605);">Sud</div>
<div class="t b" id="t50" style="left:986.00px;top:1339px;font-size:18.17px;color:#111;transform:scaleX(1.0465);">+36,3</div>
<div class="t" id="t51" style="left:733.80px;top:1403px;font-size:19.19px;color:#1a1a1a;-webkit-text-stroke:0.3px #1a1a1a;transform:scaleX(0.9284);">Isole</div>
<div class="t b" id="t52" style="left:996.00px;top:1404px;font-size:18.17px;color:#111;transform:scaleX(1.0465);">+36,6</div>
<div class="t" id="t53" style="left:674.80px;top:1472px;font-size:19.19px;color:#1a1a1a;-webkit-text-stroke:0.3px #1a1a1a;transform:scaleX(0.9731);">Nord-Ovest</div>
<div class="t b" id="t54" style="left:1074.00px;top:1473px;font-size:18.17px;color:#111;transform:scaleX(1.0022);">+39,1</div>
<div class="t" id="t55" style="left:1665.00px;top:854px;font-size:18.17px;color:#1a1a1a;-webkit-text-stroke:0.3px #1a1a1a;transform:scaleX(0.9139);">45,1 - 47</div>
<div class="t" id="t56" style="left:1665.00px;top:889px;font-size:18.17px;color:#1a1a1a;-webkit-text-stroke:0.3px #1a1a1a;transform:scaleX(0.9042);">47,7 - 50,1</div>
<div class="t" id="t57" style="left:1664.00px;top:924px;font-size:18.17px;color:#1a1a1a;-webkit-text-stroke:0.3px #1a1a1a;transform:scaleX(0.9334);">51,2 - 54,3</div>
<div class="t" id="t58" style="left:1664.00px;top:959px;font-size:18.17px;color:#1a1a1a;-webkit-text-stroke:0.3px #1a1a1a;transform:scaleX(0.9452);">56,3 - 56,9</div>
<div class="t" id="t59" style="left:1664.00px;top:994px;font-size:18.17px;color:#1a1a1a;-webkit-text-stroke:0.3px #1a1a1a;transform:scaleX(0.9496);">61,9 - 63</div>
<div class="t" id="t60" style="left:1206.00px;top:1477px;font-size:18.17px;color:#1a1a1a;-webkit-text-stroke:0.3px #1a1a1a;transform:scaleX(0.9427);">Anno: 2018 - Fonte: Istat</div>
<div class="t b" id="t61" style="left:1358.40px;top:731px;font-size:21.22px;color:#000;letter-spacing:1.6px;-webkit-text-stroke:0.35px #000;transform:scaleX(0.8799);">51,3</div>
<div class="t b" id="t62" style="left:1351.00px;top:778px;font-size:21.22px;color:#000;letter-spacing:1.6px;-webkit-text-stroke:0.35px #000;transform:scaleX(0.9485);">47</div>
<div class="t b" id="t63" style="left:1397.00px;top:814px;font-size:21.22px;color:#000;letter-spacing:1.6px;-webkit-text-stroke:0.35px #000;transform:scaleX(0.8512);">45,1</div>
<div class="t b" id="t64" style="left:1455.60px;top:773px;font-size:21.22px;color:#000;letter-spacing:1.6px;-webkit-text-stroke:0.35px #000;transform:scaleX(0.8699);">54,3</div>
<div class="t b" id="t65" style="left:1136.80px;top:806px;font-size:21.22px;color:#000;letter-spacing:1.6px;-webkit-text-stroke:0.35px #000;transform:scaleX(0.8922);">48,5</div>
<div class="t b" id="t66" style="left:1170.20px;top:876px;font-size:21.22px;color:#000;letter-spacing:1.6px;-webkit-text-stroke:0.35px #000;transform:scaleX(0.8922);">48,5</div>
<div class="t b" id="t67" style="left:1266.80px;top:817px;font-size:21.22px;color:#000;letter-spacing:1.6px;-webkit-text-stroke:0.35px #000;transform:scaleX(0.8879);">56,9</div>
<div class="t b" id="t68" style="left:1224.00px;top:932px;font-size:21.22px;color:#000;letter-spacing:1.6px;-webkit-text-stroke:0.35px #000;transform:scaleX(0.9085);">61,9</div>
<div class="t b" id="t69" style="left:1349.00px;top:904px;font-size:21.22px;color:#000;letter-spacing:1.6px;-webkit-text-stroke:0.35px #000;transform:scaleX(0.8619);">53,4</div>
<div class="t b" id="t70" style="left:1356.80px;top:988px;font-size:21.22px;color:#000;letter-spacing:1.6px;-webkit-text-stroke:0.35px #000;transform:scaleX(0.8886);">53,7</div>
<div class="t b" id="t71" style="left:1475.00px;top:997px;font-size:21.22px;color:#000;letter-spacing:1.6px;-webkit-text-stroke:0.35px #000;transform:scaleX(0.8756);">54,2</div>
<div class="t b" id="t72" style="left:1432.00px;top:1026px;font-size:21.22px;color:#000;letter-spacing:1.6px;-webkit-text-stroke:0.35px #000;transform:scaleX(0.8563);">63</div>
<div class="t b" id="t73" style="left:1506.20px;top:1084px;font-size:21.22px;color:#000;letter-spacing:1.6px;-webkit-text-stroke:0.35px #000;transform:scaleX(0.8809);">52,3</div>
<div class="t b" id="t74" style="left:1433.00px;top:1102px;font-size:21.22px;color:#000;letter-spacing:1.6px;-webkit-text-stroke:0.35px #000;transform:scaleX(0.8974);">51,2</div>
<div class="t b" id="t75" style="left:1551.60px;top:1130px;font-size:21.22px;color:#000;letter-spacing:1.6px;-webkit-text-stroke:0.35px #000;transform:scaleX(0.8332);">54</div>
<div class="t b" id="t76" style="left:1546.80px;top:1174px;font-size:21.22px;color:#000;letter-spacing:1.6px;-webkit-text-stroke:0.35px #000;transform:scaleX(0.9106);">46,5</div>
<div class="t b" id="t77" style="left:1667.00px;top:1179px;font-size:21.22px;color:#000;letter-spacing:1.6px;-webkit-text-stroke:0.35px #000;transform:scaleX(0.8703);">50,1</div>
<div class="t b" id="t78" style="left:1636.60px;top:1214px;font-size:21.22px;color:#000;letter-spacing:1.6px;-webkit-text-stroke:0.35px #000;transform:scaleX(0.8598);">56,7</div>
<div class="t b" id="t79" style="left:1660.60px;top:1319px;font-size:21.22px;color:#000;letter-spacing:1.6px;-webkit-text-stroke:0.35px #000;transform:scaleX(0.9031);">48,7</div>
<div class="t b" id="t80" style="left:1521.00px;top:1428px;font-size:21.22px;color:#000;letter-spacing:1.6px;-webkit-text-stroke:0.35px #000;transform:scaleX(0.8846);">47,7</div>
<div class="t b" id="t81" style="left:1232.00px;top:1240px;font-size:21.22px;color:#000;letter-spacing:1.6px;-webkit-text-stroke:0.35px #000;transform:scaleX(0.8590);">56,3</div>
</body></html>
